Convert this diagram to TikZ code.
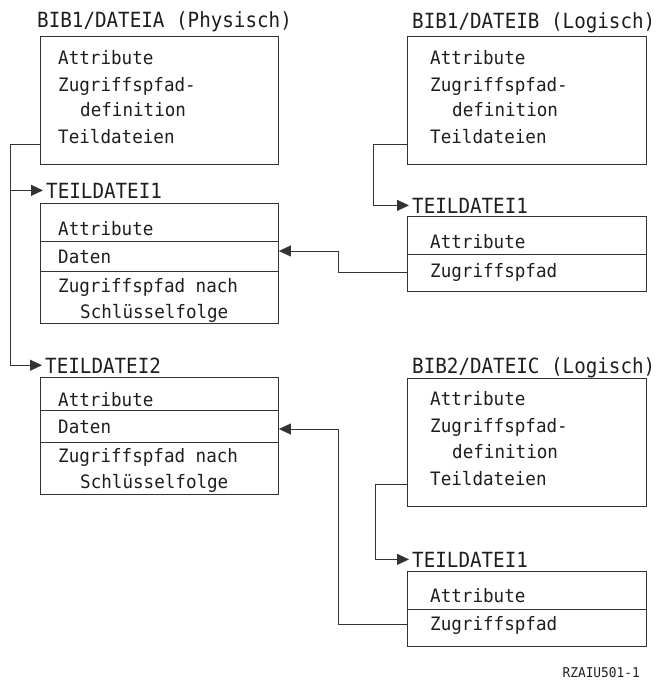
\documentclass[tikz,border=0pt]{standalone}
\usepackage{fontspec}
\setmonofont{DejaVu Sans Mono}
\newfontfamily\titlefont[FakeStretch=0.92]{DejaVu Sans Mono}
\newfontfamily\bodyfont[FakeStretch=0.95]{DejaVu Sans Mono}
\usetikzlibrary{arrows.meta,calc}
\definecolor{ln}{HTML}{333333}
\definecolor{tx}{HTML}{1E1E1E}
\tikzset{
  box/.style={draw=ln, line width=0.9pt, inner sep=0pt, anchor=north west},
  txt/.style={anchor=base west, inner sep=0pt, text=tx, font=\bodyfont\fontsize{18.5}{20}\selectfont},
  ttl/.style={anchor=base west, inner sep=0pt, text=tx, font=\titlefont\fontsize{20.9}{22}\selectfont},
  small/.style={anchor=base east, inner sep=0pt, text=tx, font=\bodyfont\fontsize{13.5}{15}\selectfont},
  conn/.style={draw=ln, line width=0.9pt},
  arr/.style={conn, -{Triangle[length=12pt,width=11pt]}}
}
\begin{document}
\begin{tikzpicture}[x=1pt,y=-1pt]
\useasboundingbox (0,0) rectangle (660,687);
% boxes
\node[box, minimum width=238pt, minimum height=128pt] (A) at (40,36) {};
\node[box, minimum width=239pt, minimum height=128pt] (B) at (407,36) {};
\node[box, minimum width=238pt, minimum height=120pt] (T1) at (40,203) {};
\node[box, minimum width=239pt, minimum height=75pt] (T1B) at (407,216) {};
\node[box, minimum width=238pt, minimum height=117pt] (T2) at (40,377) {};
\node[box, minimum width=239pt, minimum height=128pt] (C) at (407,378) {};
\node[box, minimum width=239pt, minimum height=75pt] (T1C) at (407,571) {};
% dividers
\draw[conn] ($(T1.north west)+(0,38)$) -- ($(T1.north east)+(0,38)$);
\draw[conn] ($(T1.north west)+(0,68)$) -- ($(T1.north east)+(0,68)$);
\draw[conn] ($(T1B.north west)+(0,38)$) -- ($(T1B.north east)+(0,38)$);
\draw[conn] ($(T2.north west)+(0,33)$) -- ($(T2.north east)+(0,33)$);
\draw[conn] ($(T2.north west)+(0,65)$) -- ($(T2.north east)+(0,65)$);
\draw[conn] ($(T1C.north west)+(0,38)$) -- ($(T1C.north east)+(0,38)$);
% titles and labels
\node[ttl] (tA) at (37,28) {BIB1/DATEIA (Physisch)};
\node[ttl] (tB) at (412,29) {BIB1/DATEIB (Logisch)};
\node[ttl] (tC) at (412,373) {BIB2/DATEIC (Logisch)};
\node[ttl] (l1) at (46,198) {TEILDATEI1};
\node[ttl] (l1b) at (412,213) {TEILDATEI1};
\node[ttl] (l2) at (45,373) {TEILDATEI2};
\node[ttl] (l1c) at (412,567) {TEILDATEI1};
% box A
\node[txt] (a1) at (58,65) {Attribute};
\node[txt] (a2) at (58,92) {Zugriffspfad-};
\node[txt] (a3) at (80,117) {definition};
\node[txt] (a4) at (58,144) {Teildateien};
% box B
\node[txt] (b1) at (430,65) {Attribute};
\node[txt] (b2) at (430,92) {Zugriffspfad-};
\node[txt] (b3) at (452,117) {definition};
\node[txt] (b4) at (430,144) {Teildateien};
% T1
\node[txt] (p1) at (58,235) {Attribute};
\node[txt] (p2) at (58,263) {Daten};
\node[txt] (p3) at (58,292) {Zugriffspfad nach};
\node[txt] (p4) at (80,318) {Schlüsselfolge};
% T1B
\node[txt] (q1) at (430,248) {Attribute};
\node[txt] (q2) at (430,277) {Zugriffspfad};
% T2
\node[txt] (r1) at (58,406) {Attribute};
\node[txt] (r2) at (58,433) {Daten};
\node[txt] (r3) at (58,462) {Zugriffspfad nach};
\node[txt] (r4) at (80,488) {Schlüsselfolge};
% C
\node[txt] (c1) at (430,405) {Attribute};
\node[txt] (c2) at (430,432) {Zugriffspfad-};
\node[txt] (c3) at (452,458) {definition};
\node[txt] (c4) at (430,485) {Teildateien};
% T1C
\node[txt] (s1) at (430,602) {Attribute};
\node[txt] (s2) at (430,630) {Zugriffspfad};
% figure id
\node[small] (id) at (640,677) {RZAIU501-1};
% connectors
\draw[arr] ($(A.north west)+(0,108)$) -- ++(-30,0) coordinate (jA) |- ([xshift=-3pt]l2.west);
\draw[arr] (jA) |- ([xshift=-3pt]l1.west);
\draw[arr] ($(B.north west)+(0,108)$) -- ++(-34,0) |- ([xshift=-3pt]l1b.west);
\draw[arr] ($(C.north west)+(0,106)$) -- ++(-32,0) |- ([xshift=-3pt]l1c.west);
\draw[arr] ($(T1B.north west)+(0,56)$) -- ++(-69,0) |- ($(T1.north east)+(0,48)$);
\draw[arr] ($(T1C.north west)+(0,53)$) -- ++(-69,0) |- ($(T2.north east)+(0,52)$);
\end{tikzpicture}
\end{document}
